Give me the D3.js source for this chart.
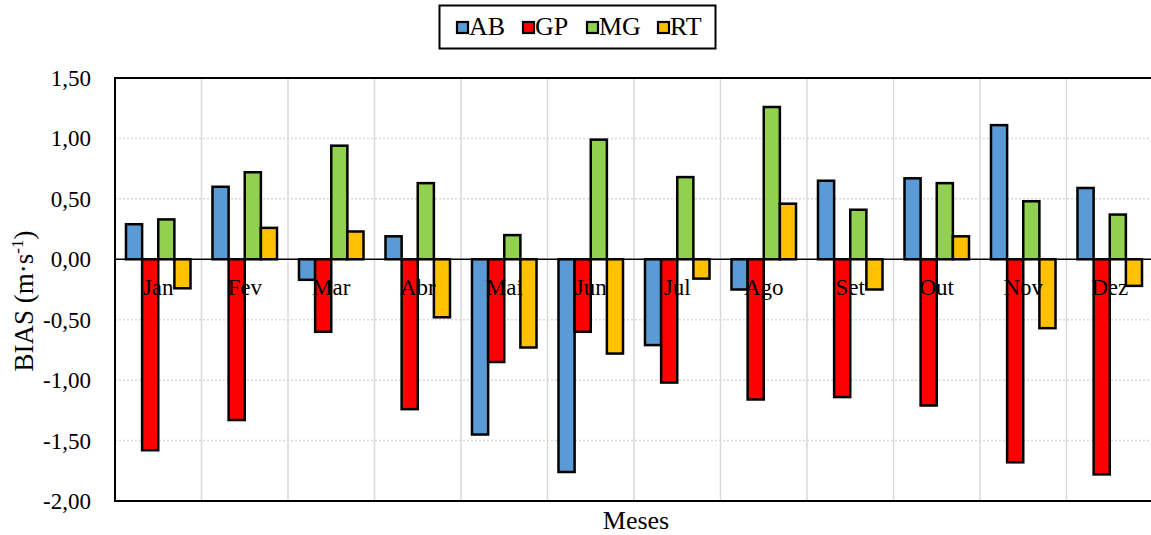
<!DOCTYPE html>
<html>
<head>
<meta charset="utf-8">
<script src="https://cdn.jsdelivr.net/npm/d3@7"></script>
<style>
  html, body { margin: 0; padding: 0; background: #fff; }
  svg { display: block; }
  text { font-family: 'Liberation Serif', 'Times New Roman', Times, serif; }
</style>
</head>
<body>
<svg id="chart" width="1151" height="535"></svg>
<script>
// Monthly BIAS (m·s-1) per station
const months = ["Jan", "Fev", "Mar", "Abr", "Mai", "Jun", "Jul", "Ago", "Set", "Out", "Nov", "Dez"];
const seriesNames = ["AB", "GP", "MG", "RT"];
const seriesColors = ["#5b9bd5", "#ff0000", "#92d050", "#ffc000"];
const valuesAB = [0.29, 0.60, -0.17, 0.19, -1.45, -1.76, -0.71, -0.25, 0.65, 0.67, 1.11, 0.59];
const valuesGP = [-1.58, -1.33, -0.60, -1.24, -0.85, -0.60, -1.02, -1.16, -1.14, -1.21, -1.68, -1.78];
const valuesMG = [0.33, 0.72, 0.94, 0.63, 0.20, 0.99, 0.68, 1.26, 0.41, 0.63, 0.48, 0.37];
const valuesRT = [-0.24, 0.26, 0.23, -0.48, -0.73, -0.78, -0.16, 0.46, -0.25, 0.19, -0.57, -0.22];
const yTicks = [1.5, 1.0, 0.5, 0.0, -0.5, -1.0, -1.5, -2.0];

const FONT = "'Liberation Serif', 'Times New Roman', Times, serif";

const seriesValues = [valuesAB, valuesGP, valuesMG, valuesRT];
const rows = months.map((m, i) => ({
  month: m,
  vals: seriesNames.map((s, k) => ({ key: s, value: seriesValues[k][i], color: seriesColors[k] }))
}));

const svg = d3.select("#chart").attr("font-family", FONT);
const plotL = 115, plotR = 1153, plotT = 78, plotB = 501;

const x = d3.scaleBand().domain(months).range([plotL, plotR]).paddingInner(0).paddingOuter(0);
const xs = d3.scaleBand().domain(seriesNames)
  .range([x.bandwidth() * 0.127, x.bandwidth() * 0.873]).paddingInner(0);
const y = d3.scaleLinear().domain([-2.0, 1.5]).range([plotB, plotT]);

const fmt = v => d3.format(".2f")(v).replace(".", ",").replace("−", "-");

// horizontal dotted grid
svg.append("g").selectAll("line").data(yTicks.filter(t => t !== 1.5 && t !== -2.0 && t !== 0)).join("line")
  .attr("x1", plotL).attr("x2", plotR)
  .attr("y1", d => y(d)).attr("y2", d => y(d))
  .attr("stroke", "#d9d9d9").attr("stroke-width", 1.5).attr("stroke-dasharray", "2,2");

// vertical grid at category boundaries
svg.append("g").selectAll("line").data(months.slice(1)).join("line")
  .attr("x1", d => x(d)).attr("x2", d => x(d))
  .attr("y1", plotT).attr("y2", plotB)
  .attr("stroke", "#d9d9d9").attr("stroke-width", 1.5);

// bars
const groups = svg.append("g").selectAll("g").data(rows).join("g")
  .attr("transform", d => `translate(${x(d.month)},0)`);
groups.selectAll("rect").data(d => d.vals).join("rect")
  .attr("x", d => xs(d.key))
  .attr("width", xs.bandwidth())
  .attr("y", d => y(Math.max(0, d.value)))
  .attr("height", d => Math.abs(y(d.value) - y(0)))
  .attr("fill", d => d.color)
  .attr("stroke", "#000").attr("stroke-width", 2.5);

// zero line
svg.append("line").attr("x1", plotL).attr("x2", plotR)
  .attr("y1", y(0)).attr("y2", y(0)).attr("stroke", "#000").attr("stroke-width", 1.5);

// plot frame (top, left, bottom)
svg.append("path")
  .attr("d", `M${plotR},${plotT}H${plotL}V${plotB}H${plotR}`)
  .attr("fill", "none").attr("stroke", "#000").attr("stroke-width", 2);

// category labels, drawn just below zero line
svg.append("g").selectAll("text").data(months).join("text")
  .attr("x", d => x(d) + x.bandwidth() / 2)
  .attr("y", y(0) + 35.5)
  .attr("text-anchor", "middle")
  .attr("font-family", FONT)
  .attr("font-size", 23)
  .text(d => d);

// y tick labels
svg.append("g").selectAll("text").data(yTicks).join("text")
  .attr("x", 91).attr("y", d => y(d))
  .attr("dy", "0.35em")
  .attr("text-anchor", "end")
  .attr("font-family", FONT)
  .attr("font-size", 23)
  .text(d => fmt(d));

// y axis title
const yt = svg.append("text")
  .attr("transform", `translate(33,301) rotate(-90)`)
  .attr("text-anchor", "middle")
  .attr("font-family", FONT)
  .attr("font-size", 27);
yt.append("tspan").text("BIAS (m·s");
yt.append("tspan").attr("dy", -10).attr("font-size", 17).text("-1");
yt.append("tspan").attr("dy", 10).text(")");

// x axis title
svg.append("text")
  .attr("x", 636).attr("y", 529)
  .attr("text-anchor", "middle")
  .attr("font-family", FONT)
  .attr("font-size", 26)
  .text("Meses");

// legend
const lg = svg.append("g");
lg.append("rect").attr("x", 439.5).attr("y", 5.5).attr("width", 276).attr("height", 43)
  .attr("fill", "#fff").attr("stroke", "#000").attr("stroke-width", 2);
const legendX = [457, 523, 587, 658];
const items = lg.selectAll("g").data(seriesNames).join("g")
  .attr("transform", (d, i) => `translate(${legendX[i]},35)`);
items.append("rect").attr("x", 0).attr("y", -13).attr("width", 11).attr("height", 11)
  .attr("fill", (d, i) => seriesColors[i]).attr("stroke", "#000").attr("stroke-width", 2.2);
items.append("text").attr("x", 12).attr("y", 0)
  .attr("font-family", FONT)
  .attr("font-size", 26)
  .text(d => d);
</script>
</body>
</html>
